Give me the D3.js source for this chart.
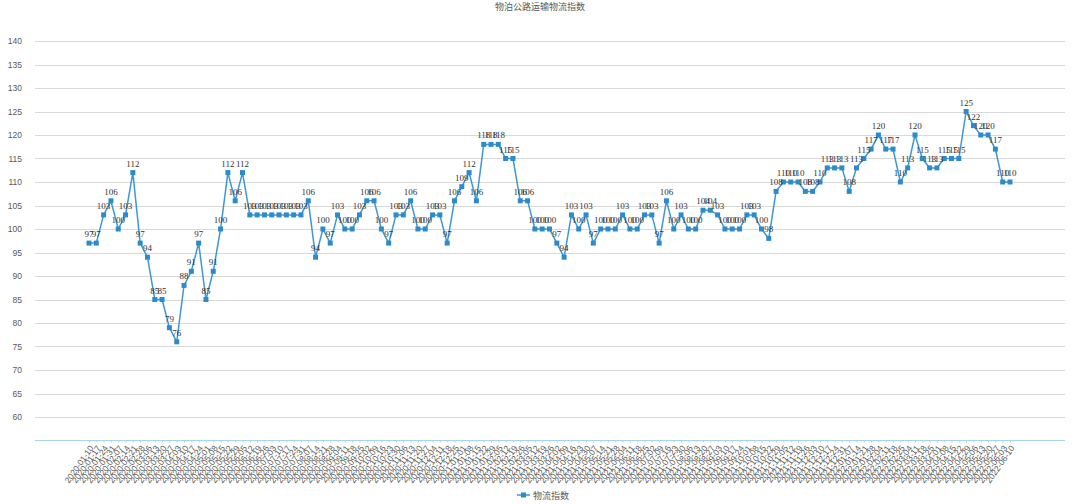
<!DOCTYPE html>
<html><head><meta charset="utf-8">
<script src="https://cdn.jsdelivr.net/npm/d3@7"></script>
<style>
body{margin:0;background:#fff;}
svg{display:block;font-family:"Noto Sans CJK SC","Liberation Sans",sans-serif;}
</style></head>
<body><svg id="c" width="1080" height="504"></svg>
<script>
const title = "物泊公路运输物流指数";
const seriesName = "物流指数";
const dates = [
"2020-01-10","2020-01-17","2020-01-24","2020-01-31","2020-02-07","2020-02-14","2020-02-21","2020-02-28",
"2020-03-06","2020-03-13","2020-03-20","2020-03-27","2020-04-03","2020-04-10","2020-04-17","2020-04-24",
"2020-05-01","2020-05-08","2020-05-15","2020-05-22","2020-05-29","2020-06-05","2020-06-12","2020-06-19",
"2020-06-26","2020-07-03","2020-07-10","2020-07-17","2020-07-24","2020-07-31","2020-08-07","2020-08-14",
"2020-08-21","2020-08-28","2020-09-04","2020-09-11","2020-09-18","2020-09-25","2020-10-02","2020-10-09",
"2020-10-16","2020-10-23","2020-10-30","2020-11-06","2020-11-13","2020-11-20","2020-11-27","2020-12-04",
"2020-12-11","2020-12-18","2020-12-25","2021-01-01","2021-01-08","2021-01-15","2021-01-22","2021-01-29",
"2021-02-05","2021-02-12","2021-02-19","2021-02-26","2021-03-05","2021-03-12","2021-03-19","2021-03-26",
"2021-04-02","2021-04-09","2021-04-16","2021-04-23","2021-04-30","2021-05-07","2021-05-14","2021-05-21",
"2021-05-28","2021-06-04","2021-06-11","2021-06-18","2021-06-25","2021-07-02","2021-07-09","2021-07-16",
"2021-07-23","2021-07-30","2021-08-06","2021-08-13","2021-08-20","2021-08-27","2021-09-03","2021-09-10",
"2021-09-17","2021-09-24","2021-10-01","2021-10-08","2021-10-15","2021-10-22","2021-10-29","2021-11-05",
"2021-11-12","2021-11-19","2021-11-26","2021-12-03","2021-12-10","2021-12-17","2021-12-24","2021-12-31",
"2022-01-07","2022-01-14","2022-01-21","2022-01-28","2022-02-04","2022-02-11","2022-02-18","2022-02-25",
"2022-03-04","2022-03-11","2022-03-18","2022-03-25","2022-04-01","2022-04-08","2022-04-15","2022-04-22",
"2022-04-29","2022-05-06","2022-05-13","2022-05-20","2022-05-27","2022-06-03","2022-06-10"
];
const values = [
97,97,103,106,100,103,112,97,94,85,85,79,76,88,91,97,85,91,100,112,106,112,
103,103,103,103,103,103,103,103,
106,94,100,97,103,100,100,103,106,106,100,97,103,103,106,100,100,103,103,97,
106,109,112,106,118,118,118,115,115,106,106,100,100,100,97,94,
103,100,103,97,100,100,100,103,100,100,103,103,97,106,100,103,100,100,104,104,
103,100,100,100,103,103,100,98,108,110,110,110,108,108,110,113,113,113,108,113,
115,117,120,117,117,110,113,120,115,113,113,115,115,115,125,122,120,120,117,110,110
];
const yTicks = [60,65,70,75,80,85,90,95,100,105,110,115,120,125,130,135,140];

const svg = d3.select("#c");
const plotL = 35, plotR = 1065;
const x = d3.scalePoint().domain(dates).range([89, 1010]);
const y = d3.scaleLinear().domain([55, 140]).range([440.5, 41]);

// title
svg.append("text").attr("x", 540).attr("y", 10).attr("text-anchor", "middle")
  .attr("font-size", 9).attr("fill", "#595959").text(title);

// gridlines
svg.append("g").selectAll("line").data(yTicks).join("line")
  .attr("x1", plotL).attr("x2", plotR)
  .attr("y1", d => Math.round(y(d)) + 0.5).attr("y2", d => Math.round(y(d)) + 0.5)
  .attr("stroke", "#d9d9d9").attr("stroke-width", 1);

// y labels
const yAxis = svg.append("g").attr("transform", `translate(${plotL},0)`)
  .call(d3.axisLeft(y).tickValues(yTicks).tickSize(0).tickPadding(13));
yAxis.select(".domain").remove();
yAxis.selectAll("text").attr("font-size", 8.5).attr("fill", "#595959")
  .attr("font-family", "Liberation Sans, sans-serif");

// x axis
const xAxisY = 440.5;
const xAxis = svg.append("g").attr("transform", `translate(0,${xAxisY})`)
  .call(d3.axisBottom(x).tickSize(2).tickPadding(0));
xAxis.select(".domain").remove();
xAxis.selectAll(".tick line").attr("stroke", "#a9d4ec");
xAxis.selectAll("text").attr("font-size", 8.5).attr("fill", "#595959")
  .attr("font-family", "Liberation Sans, sans-serif")
  .attr("text-anchor", "end").attr("x", 0).attr("y", 0).attr("dy", "0.35em")
  .attr("transform", "translate(2,6) rotate(-55)");
svg.append("line").attr("x1", plotL).attr("x2", plotR)
  .attr("y1", xAxisY).attr("y2", xAxisY)
  .attr("stroke", "#a9d4ec").attr("stroke-width", 1);

// line
const pts = dates.map((d, i) => ({d, v: values[i]}));
svg.append("path").datum(pts)
  .attr("fill", "none").attr("stroke", "#3d98d3").attr("stroke-width", 1.5)
  .attr("d", d3.line().x(p => x(p.d)).y(p => y(p.v)));

// markers
svg.append("g").selectAll("rect").data(pts).join("rect")
  .attr("x", p => x(p.d) - 2.5).attr("y", p => y(p.v) - 2.5)
  .attr("width", 5).attr("height", 5).attr("fill", "#2c8ccb");

// data labels
svg.append("g").selectAll("text").data(pts).join("text")
  .attr("x", p => x(p.d)).attr("y", p => y(p.v) - 6)
  .attr("text-anchor", "middle").attr("font-size", 9)
  .attr("font-family", "Liberation Serif, serif").attr("fill", "#333333")
  .text(p => p.v);

// legend
const lg = svg.append("g").attr("transform", "translate(517,495)");
lg.append("line").attr("x1", 0).attr("x2", 13).attr("stroke", "#3d98d3").attr("stroke-width", 1.5);
lg.append("rect").attr("x", 4).attr("y", -2.5).attr("width", 5).attr("height", 5).attr("fill", "#2c8ccb");
lg.append("text").attr("x", 16).attr("y", 3.5).attr("font-size", 9).attr("fill", "#595959").text(seriesName);
</script></body></html>
